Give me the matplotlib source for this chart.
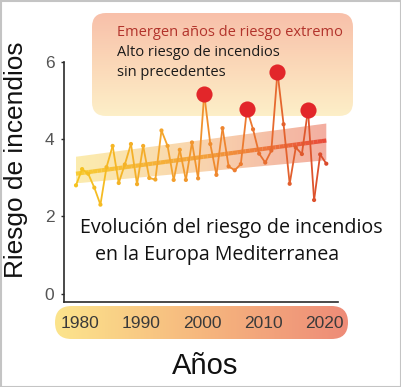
import numpy as np
import matplotlib.pyplot as plt
from matplotlib.collections import LineCollection
from matplotlib.colors import LinearSegmentedColormap
from matplotlib.patches import FancyBboxPatch, Polygon, Rectangle

# data
years = np.arange(1979, 2021)
risk = [2.80, 3.22, 3.10, 2.74, 2.30, 3.27, 3.82, 2.86, 3.34, 3.87,
        2.83, 3.82, 2.99, 2.95, 4.22, 3.82, 2.94, 3.72, 2.94, 3.91,
        2.98, 5.16, 3.87, 3.07, 4.28, 3.29, 3.19, 3.35, 4.77, 4.25,
        3.62, 3.39, 3.70, 5.73, 4.38, 2.84, 3.78, 3.61, 4.75, 2.42,
        3.60, 3.36]
extreme_years = [2000, 2007, 2012, 2017]
trend_years = [1979, 2020]
trend_vals = [3.10, 3.96]
band_low = [2.85, 3.45]
band_high = [3.54, 4.40]
year_ticks = [1980, 1990, 2000, 2010, 2020]
risk_ticks = [0, 2, 4, 6]

risk = np.array(risk)

line_cmap = LinearSegmentedColormap.from_list('line', ['#F5C320', '#F4A62C', '#EC7A30', '#DA4A2C'])
trend_cmap = LinearSegmentedColormap.from_list('trend', ['#F8CB35', '#F3A23A', '#E8483A'])
band_cmap = LinearSegmentedColormap.from_list('band', ['#FCE9A0', '#F8CDA0', '#F1A090'])
box_cmap = LinearSegmentedColormap.from_list('box', ['#F8C0AA', '#FBD8B8', '#FDEFC8'])
pill_cmap = LinearSegmentedColormap.from_list('pill', ['#FCE48C', '#F6B77E', '#EE8C78'])

W, H = 402, 387
fig = plt.figure(figsize=(W / 100, H / 100), dpi=100)

# background layer in pixel coordinates
bg = fig.add_axes([0, 0, 1, 1], zorder=0)
bg.axis('off')

box = FancyBboxPatch((92, 13), 261, 103, boxstyle='round,pad=0,rounding_size=14',
                     facecolor='none', edgecolor='none')
bg.add_patch(box)
im = bg.imshow(np.linspace(0, 1, 100).reshape(-1, 1), extent=[92, 353, 116, 13],
               cmap=box_cmap, aspect='auto', origin='upper')
im.set_clip_path(box)

pill = FancyBboxPatch((55, 306), 293, 33, boxstyle='round,pad=0,rounding_size=16.5',
                      facecolor='none', edgecolor='none')
bg.add_patch(pill)
im2 = bg.imshow(np.linspace(0, 1, 100).reshape(1, -1), extent=[55, 348, 339, 306],
                cmap=pill_cmap, aspect='auto', origin='upper')
im2.set_clip_path(pill)

bg.add_patch(Rectangle((0.5, 0.5), W - 1, H - 1, facecolor='none', edgecolor='#C4C4C4', lw=1.5))
bg.set_xlim(0, W)
bg.set_ylim(H, 0)

bg.text(117, 33, 'Emergen años de riesgo extremo', color='#B2332B', fontsize=10.5,
        family='Open Sans', va='center')
bg.text(117, 52, 'Alto riesgo de incendios', color='#1a1a1a', fontsize=10.5,
        family='Open Sans', va='center')
bg.text(117, 72, 'sin precedentes', color='#1a1a1a', fontsize=10.5,
        family='Open Sans', va='center')
bg.text(231, 228, 'Evolución del riesgo de incendios', color='#111111', fontsize=14.1,
        family='Open Sans', ha='center', va='center')
bg.text(217, 255, 'en la Europa Mediterranea', color='#111111', fontsize=14.1,
        family='Open Sans', ha='center', va='center')

# main chart
ax = fig.add_axes([64 / W, 85 / H, 274 / W, 240.3 / H], zorder=1)
ax.patch.set_alpha(0)
x0 = 1979 - 12 / 6.105
x1 = 2020 + 11.7 / 6.105
ax.set_xlim(x0, x1)
ax.set_ylim(-0.22, 6.0)

# confidence band with horizontal gradient
band_poly = Polygon(list(zip(trend_years, band_low)) + list(zip(trend_years[::-1], band_high[::-1])),
                    closed=True, facecolor='none', edgecolor='none')
ax.add_patch(band_poly)
bim = ax.imshow(np.linspace(0, 1, 100).reshape(1, -1),
                extent=[trend_years[0], trend_years[1], min(band_low), max(band_high)],
                cmap=band_cmap, aspect='auto', alpha=0.85, zorder=1)
bim.set_clip_path(band_poly)

# trend line
tx = np.linspace(trend_years[0], trend_years[1], 60)
ty = np.interp(tx, trend_years, trend_vals)
tpts = np.column_stack([tx, ty]).reshape(-1, 1, 2)
tseg = np.concatenate([tpts[:-1], tpts[1:]], axis=1)
tlc = LineCollection(tseg, cmap=trend_cmap, linewidth=3.0, capstyle='butt', zorder=2)
tlc.set_array((tx[:-1] - tx[0]) / (tx[-1] - tx[0]))
tlc.set_clim(0, 1)
ax.add_collection(tlc)

# data line
pts = np.column_stack([years, risk]).reshape(-1, 1, 2)
seg = np.concatenate([pts[:-1], pts[1:]], axis=1)
norm_x = (years - years[0]) / (years[-1] - years[0])
lc = LineCollection(seg, cmap=line_cmap, linewidth=1.3, zorder=3)
lc.set_array(norm_x[:-1])
lc.set_clim(0, 1)
ax.add_collection(lc)
ax.scatter(years, risk, c=norm_x, cmap=line_cmap, vmin=0, vmax=1, s=9, zorder=4, linewidths=0)

ext_mask = np.isin(years, extreme_years)
ax.scatter(years[ext_mask], risk[ext_mask], s=135, color='#E2262A', zorder=5,
           linewidths=0, clip_on=False)

ax.spines['top'].set_visible(False)
ax.spines['right'].set_visible(False)
ax.spines['left'].set_color('#2a2a2a')
ax.spines['bottom'].set_color('#2a2a2a')
ax.spines['left'].set_linewidth(1.2)
ax.spines['bottom'].set_linewidth(1.2)

ax.set_yticks(risk_ticks)
ax.set_yticklabels([str(t) for t in risk_ticks], family=['Liberation Sans Narrow', 'Liberation Sans'],
                   fontsize=12.5, color='#555555')
ax.tick_params(axis='y', length=2, width=1, color='#2a2a2a', pad=5)
ax.set_xticks([t - 2 / 6.105 for t in year_ticks])
ax.set_xticklabels([str(t) for t in year_ticks], family=['Liberation Sans Narrow', 'Liberation Sans'],
                   fontsize=12.5, color='#3a3a3a')
ax.tick_params(axis='x', length=0, pad=10)

ax.set_ylabel('Riesgo de incendios', family='Liberation Sans', fontsize=18.9, color='#111111')
ax.yaxis.set_label_coords(-0.13, 0.593)
ax.set_xlabel('Años', family='Liberation Sans', fontsize=21, color='#111111')
ax.xaxis.set_label_coords((205 - 64) / 274, -0.21)

fig.savefig('out.png', dpi=100)
